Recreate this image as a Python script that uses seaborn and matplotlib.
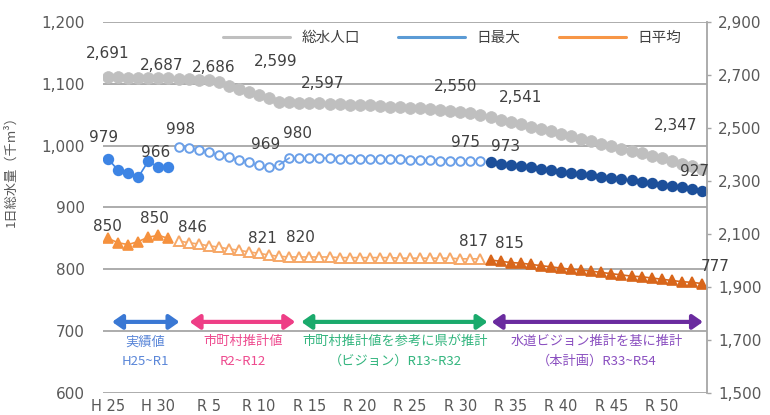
import matplotlib
matplotlib.use("Agg")
import matplotlib.pyplot as plt
import seaborn as sns
from matplotlib.lines import Line2D

# ---- categories -------------------------------------------------------
years = [f"H{y}" for y in range(25, 31)] + [f"R{y}" for y in range(1, 55)]
tick_index = [0, 5, 10, 15, 20, 25, 30, 35, 40, 45, 50, 55]
tick_labels = ["H 25", "H 30", "R 5", "R 10", "R 15", "R 20", "R 25",
               "R 30", "R 35", "R 40", "R 45", "R 50"]

# period boundaries (start index of each block)
periods = ["実績値", "市町村推計値", "県推計（ビジョン）", "本計画"]
period_start = [0, 7, 18, 38]
period_end = [6, 17, 37, 59]

# ---- series values ------------------------------------------------------
# 給水人口 (千人, right axis)
pop = [2691, 2691, 2690, 2690, 2689, 2688, 2687,
       2686, 2685, 2683, 2680, 2672, 2660, 2648, 2637, 2626, 2612, 2599,
       2597, 2596, 2595, 2593, 2592, 2590, 2588, 2587, 2585, 2583,
       2581, 2579, 2576, 2574, 2571, 2568, 2565, 2561, 2556, 2550,
       2541, 2532, 2523, 2514, 2505, 2496, 2487, 2478, 2469, 2460, 2450,
       2441, 2432, 2422, 2413, 2404, 2394, 2385, 2375, 2366, 2356, 2347]

# 日最大 (千m3, left axis)
day_max = [979, 960, 955, 949, 975, 965, 966,
           998, 996, 993, 989, 985, 981, 977, 973, 968, 965, 969,
           980, 980, 980, 980, 980, 979, 979, 979, 979, 978,
           978, 978, 977, 977, 977, 976, 976, 976, 975, 975,
           973, 971, 969, 967, 965, 963, 961, 958, 956, 954, 952,
           950, 948, 946, 944, 942, 939, 937, 935, 933, 930, 927]

# 日平均 (千m3, left axis)
day_avg = [850, 843, 840, 845, 852, 855, 850,
           846, 843, 841, 838, 836, 833, 831, 828, 826, 823, 821,
           820, 820, 820, 820, 820, 819, 819, 819, 819, 819,
           819, 818, 818, 818, 818, 818, 818, 817, 817, 817,
           815, 813, 811, 810, 808, 806, 804, 802, 800, 799, 797,
           795, 793, 791, 789, 788, 786, 784, 782, 780, 779, 777]

label_index = [0, 6, 7, 17, 18, 37, 38, 59]
# label offsets in pixels (dx, dy) for each series
pop_offsets = [(0, 24), (-7, 13), (35, 11), (-3, 40), (33, 19), (-25, 28), (30, 20), (-26, 43)]
max_offsets = [(-4, 21), (-13, 14), (2, 17), (-14, 20), (8, 25), (-15, 19), (15, 16), (-7, 19)]
avg_offsets = [(-1, 12), (-14, 20), (14, 13), (-17, 18), (11, 19), (-7, 17), (19, 17), (13, 17)]

# ---- style ------------------------------------------------------------
sns.set_style("white")
plt.rcParams["font.family"] = ["DejaVu Sans", "Noto Sans CJK JP"]
JP = ["Noto Sans CJK JP", "DejaVu Sans"]
TXT = "#404040"
TICK = "#595959"
GRID = "#a6a6a6"

C_POP = "#bfbfbf"
C_MAX_ACT, C_MAX_EST, C_MAX_PLAN = "#3d84e4", "#6a9fe8", "#1c4f9a"
C_AVG_ACT, C_AVG_EST, C_AVG_PLAN = "#f5913e", "#f6a868", "#d8661b"

fig = plt.figure(figsize=(7.7, 4.15), dpi=100)
ax = fig.add_axes([103 / 770, 1 - 393 / 415, 604 / 770, 371 / 415])
ax2 = ax.twinx()


def segment(axis, values, lo, hi, marker, ms, face, edge, line, mew=1.2):
    xs = list(range(lo, hi + 1))
    sns.lineplot(x=xs, y=values[lo:hi + 1], ax=axis, color=line, linewidth=1.2,
                 marker=marker, markersize=ms, markerfacecolor=face,
                 markeredgecolor=edge, markeredgewidth=mew, legend=False)


# 日最大
segment(ax, day_max, 0, 6, "o", 7, C_MAX_ACT, C_MAX_ACT, C_MAX_ACT)
segment(ax, day_max, 7, 37, "o", 6.2, "white", C_MAX_EST, C_MAX_EST, 1.4)
segment(ax, day_max, 38, 59, "o", 7, C_MAX_PLAN, C_MAX_PLAN, C_MAX_PLAN)
ax.plot([17, 18], [day_max[17], day_max[18]], color=C_MAX_EST, lw=1.2)

# 日平均
segment(ax, day_avg, 0, 6, "^", 7, C_AVG_ACT, C_AVG_ACT, C_AVG_ACT)
segment(ax, day_avg, 7, 37, "^", 6.5, "white", C_AVG_EST, C_AVG_EST, 1.4)
segment(ax, day_avg, 38, 59, "^", 7, C_AVG_PLAN, C_AVG_PLAN, C_AVG_PLAN)

# 給水人口
sns.lineplot(x=list(range(len(pop))), y=pop, ax=ax2, color=C_POP, linewidth=2,
             marker="o", markersize=8.5, markerfacecolor=C_POP,
             markeredgecolor=C_POP, markeredgewidth=0.5, legend=False)

# ---- value labels (drawn on the top axes so they sit above every series) ----
for data_tr, series, offs in ((ax2.transData, pop, pop_offsets),
                              (ax.transData, day_max, max_offsets),
                              (ax.transData, day_avg, avg_offsets)):
    for i, (dx, dy) in zip(label_index, offs):
        ax2.annotate(f"{series[i]:,}", xy=(i, series[i]), xycoords=data_tr,
                     xytext=(dx, dy), textcoords="offset pixels",
                     ha="center", va="center", fontsize=11, color=TXT,
                     annotation_clip=False, zorder=5)

# ---- axes -----------------------------------------------------------------
ax.set_xlim(-0.5, 59.5)
ax.set_ylim(600, 1200)
ax.set_yticks(range(600, 1201, 100))
ax.set_yticklabels([f"{v:,}" for v in range(600, 1201, 100)])
ax.set_xticks(tick_index)
ax.set_xticklabels(tick_labels)
ax.tick_params(axis="y", length=0, pad=13, labelsize=11, labelcolor=TICK)
ax.tick_params(axis="x", length=0, pad=4, labelsize=10.5, labelcolor=TICK)
ax.yaxis.grid(True, color=GRID, linewidth=1.3)
ax.xaxis.grid(False)
ax.set_axisbelow(True)
for s in ax.spines.values():
    s.set_visible(False)
ax.set_xlabel("")
ax.set_ylabel("1日総水量（千m³）", family=JP, fontsize=9.5, color=TICK)
ax.yaxis.set_label_coords(-0.141, 0.606)

ax2.set_ylim(1500, 2900)
ax2.set_yticks(range(1500, 2901, 200))
ax2.set_yticklabels([f"{v:,}" for v in range(1500, 2901, 200)])
ax2.tick_params(axis="y", length=3, width=1, color=GRID, pad=5, labelsize=11,
                labelcolor=TICK)
for name, s in ax2.spines.items():
    s.set_visible(name == "right")
ax2.spines["right"].set_color(GRID)
ax2.spines["right"].set_linewidth(1.3)
ax2.set_ylabel("")

# ---- period arrows and captions -------------------------------------------
arrow_y = 715
spans = [(0.4, 7.1), (8.1, 18.6), (19.2, 37.7), (38.1, 59.1)]
arrow_colors = ["#3a78d4", "#ee3e86", "#1aaa6c", "#6a2b9f"]
text_colors = ["#5a86d8", "#ee4a8e", "#33b57e", "#8a4fc0"]
captions = [("実績値", "H25~R1"),
            ("市町村推計値", "R2~R12"),
            ("市町村推計値を参考に県が推計", "（ビジョン）R13~R32"),
            ("水道ビジョン推計を基に推計", "（本計画）R33~R54")]
caption_x = [3.7, 13.4, 28.5, 48.5]
for (x0, x1), ac, tc, (l1, l2), cx in zip(spans, arrow_colors, text_colors,
                                         captions, caption_x):
    ax.annotate("", xy=(x1, arrow_y), xytext=(x0, arrow_y),
                arrowprops=dict(arrowstyle="<|-|>,head_length=0.5,head_width=0.35",
                                color=ac, lw=3, shrinkA=0, shrinkB=0,
                                mutation_scale=12))
    ax.text(cx, 683, l1, family=JP, fontsize=9.5, color=tc, ha="center", va="center")
    ax.text(cx, 651, l2, family=JP, fontsize=9.5, color=tc, ha="center", va="center")

# ---- legend ----------------------------------------------------------------
handles = [Line2D([], [], color=C_POP, lw=2.2),
           Line2D([], [], color="#5b9bd5", lw=2.2),
           Line2D([], [], color="#f79646", lw=2.2)]
leg = ax2.legend(handles, ["総水人口", "日最大", "日平均"], ncol=3, loc="center",
                 bbox_to_anchor=(0.578, 0.957), frameon=False, handlelength=4.6,
                 handletextpad=0.8, columnspacing=2.6,
                 prop={"family": JP, "size": 10.5})
for t in leg.get_texts():
    t.set_color(TXT)

fig.savefig("out.png", dpi=100)
